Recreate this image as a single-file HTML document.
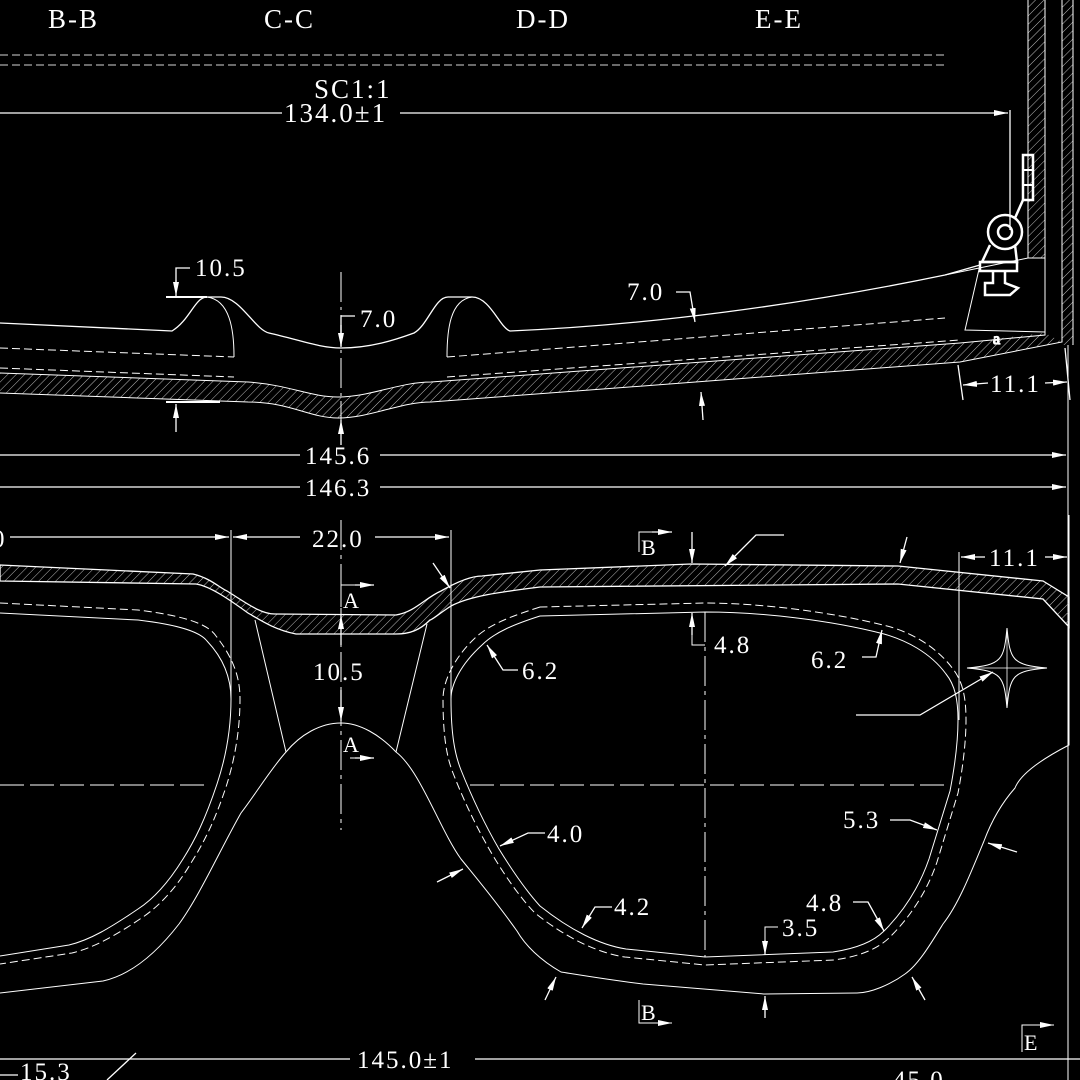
<!DOCTYPE html>
<html><head><meta charset="utf-8"><style>
html,body{margin:0;padding:0;background:#000;}
svg{display:block;}
text{font-family:"Liberation Serif","Noto Serif CJK SC",serif;fill:#fff;font-size:27px;letter-spacing:2px;}
</style></head><body>
<svg width="1080" height="1080" viewBox="0 0 1080 1080" xmlns="http://www.w3.org/2000/svg">
<defs>
<pattern id="h" width="6" height="6" patternUnits="userSpaceOnUse" patternTransform="rotate(45)">
<line x1="0" y1="0" x2="0" y2="6" stroke="#bbb" stroke-width="1"/>
</pattern>
<marker id="a" markerWidth="14" markerHeight="6" refX="14" refY="3" orient="auto" markerUnits="userSpaceOnUse">
<path d="M0,0 L14,3 L0,6 Z" fill="#fff"/>
</marker>
</defs>
<g fill="none" stroke="#fff" stroke-width="1.3">
<line x1="0" y1="55" x2="945" y2="55" stroke="#aaa" stroke-dasharray="8 4"/>
<line x1="0" y1="65" x2="945" y2="65" stroke="#aaa" stroke-dasharray="8 4"/>
<line x1="0" y1="113" x2="282" y2="113"/>
<line x1="400" y1="113" x2="1008" y2="113" marker-end="url(#a)"/>
<line x1="1010" y1="110" x2="1010" y2="230"/>

<!-- side view -->
<path d="M0,323 L172,331 C190,320 195,297 207,297 L221,297 C240,297 255,330 269,333 C300,340 320,348 341,348 C370,348 395,340 414,333 C428,325 435,297 448,297 L472,297 C490,297 500,328 510,331 C650,325 800,305 945,275 L980,265"/>
<path d="M207,297 C230,300 234,330 234,357" stroke-width="1"/>
<path d="M472,297 C450,300 447,330 447,357" stroke-width="1"/>
<path d="M0,348 L234,357 M0,368 L234,377 M447,357 L945,318 M447,377 L960,340" stroke-dasharray="8 4" stroke-width="1"/>
<path d="M0,373 L248,382 C290,385 310,397 338,397 C370,397 400,382 431,382 L960,343 L960,362 L431,402 C400,402 370,418 338,418 C310,418 290,402 248,402 L0,393Z" fill="url(#h)" stroke="none"/>
<path d="M960,343 L1045,333 L1062,342 L960,362 Z" fill="url(#h)" stroke="none"/>
<rect x="1028" y="0" width="17" height="258" fill="url(#h)" stroke="none"/>
<rect x="1062" y="0" width="11" height="345" fill="url(#h)" stroke="none"/>
<path d="M0,373 L248,382 C290,385 310,397 338,397 C370,397 400,382 431,382 L960,343 L1045,335 L1045,0 M1028,0 L1028,258 M1062,0 L1062,342 L960,362 L431,402 C400,402 370,418 338,418 C310,418 290,402 248,402 L0,393 M1073,0 L1073,345" stroke-width="1"/>
<path d="M945,275 L1028,258 L1045,258 M980,265 L965,330 L1045,332" stroke-width="1"/>
<rect x="1023" y="155" width="10" height="45" stroke-width="2.5"/>
<line x1="1023" y1="170" x2="1033" y2="170" stroke-width="2"/><line x1="1023" y1="185" x2="1033" y2="185" stroke-width="2"/>
<circle cx="1005" cy="232" r="17" stroke-width="2.5"/><circle cx="1005" cy="232" r="7" stroke-width="2.5"/>
<path d="M1023,200 L1015,218 M990,245 L982,262 L1017,262 L1015,245" stroke-width="2.5"/>
<rect x="980" y="262" width="37" height="9" stroke-width="2.5"/>
<path d="M993,271 L993,283 L985,283 L985,295 L1010,295 L1018,288 L1005,283 L1005,271" stroke-width="2.5"/>
<text x="993" y="344" style="font-size:16px">a</text>
<path d="M176,289 L176,268 L190,268"/><line x1="176" y1="280" x2="176" y2="296" marker-end="url(#a)"/>
<line x1="166" y1="297" x2="207" y2="297" stroke-width="2"/>
<line x1="166" y1="402" x2="220" y2="402" stroke-width="2"/>
<line x1="176" y1="432" x2="176" y2="404" marker-end="url(#a)"/>
<line x1="341" y1="272" x2="341" y2="445" stroke-dasharray="30 5 3 5" stroke-width="1"/>
<path d="M341,346 L341,316 L355,316"/><line x1="341" y1="325" x2="341" y2="347" marker-end="url(#a)"/>
<line x1="341" y1="445" x2="341" y2="420" marker-end="url(#a)"/>
<path d="M676,292 L690,292 L695,322" marker-end="url(#a)"/>
<line x1="703" y1="420" x2="701" y2="392" marker-end="url(#a)"/>
<line x1="958" y1="365" x2="963" y2="400"/><line x1="1065" y1="348" x2="1070" y2="400"/>
<line x1="988" y1="383" x2="963" y2="385" marker-end="url(#a)"/>
<line x1="1045" y1="383" x2="1067" y2="382" marker-end="url(#a)"/>
<line x1="1068" y1="345" x2="1068" y2="1080" stroke-width="1"/>
<line x1="0" y1="455" x2="300" y2="455"/><line x1="380" y1="455" x2="1066" y2="455" marker-end="url(#a)"/>
<line x1="0" y1="487" x2="300" y2="487"/><line x1="380" y1="487" x2="1066" y2="487" marker-end="url(#a)"/>

<!-- front view band -->
<path d="M0,565 L193,574 C210,578 220,588 227,591 C245,602 260,614 275,614 L396,615 C415,612 425,598 441,591 C455,583 470,576 482,576 L540,570 L691,564 L898,566 L1043,581 L1069,597 L1069,627 L1043,599 L898,584 L540,587 C500,592 470,596 451,606 C440,613 432,620 430,620 C420,630 410,634 396,634 L296,634 C275,630 260,620 248,613 C230,600 210,586 196,584 L0,581 Z" fill="url(#h)"/>
<path d="M1069,597 L1069,745 C1040,760 1020,775 1015,788 C1000,805 990,825 984,841 C970,875 958,905 943,924 C930,945 918,965 905,974 C890,985 870,993 857,993 L764,994 L643,984 C610,980 580,975 561,972 C540,960 525,945 517,931 C495,900 478,880 461,859 C440,830 420,770 396,752 C380,735 360,723 341,723 C320,723 300,735 286,752 C270,770 255,795 241,813 C220,850 200,895 179,924 C155,955 130,975 103,981 L0,993" stroke-width="1"/>
<path d="M0,613 L138,620 C180,625 200,632 207,641 C225,660 231,680 231,699 C231,730 225,760 217,784 C205,820 195,840 183,859 C170,880 155,898 138,909 C110,928 90,940 69,945 L0,956" stroke-width="1"/>
<path d="M0,603 L138,610 C185,616 208,624 216,636 C235,660 240,680 240,699 C240,732 234,762 226,787 C214,823 203,844 191,863 C178,885 162,904 143,917 C115,936 93,948 72,953 L0,964" stroke-width="1" stroke-dasharray="8 4"/>
<path d="M540,616 C515,624 495,632 482,645 C460,665 451,685 451,699 C451,735 455,755 461,770 C475,805 488,830 499,849 C515,875 530,895 540,906 C570,930 600,945 626,949 L705,957 L833,952 C860,948 875,940 884,931 C905,910 920,885 929,859 L950,791 C955,765 958,740 958,720 C958,700 955,685 946,674 C930,652 905,640 884,634 C830,620 760,612 705,612 Z" stroke-width="1"/>
<path d="M540,607 C512,616 490,624 475,638 C452,660 443,683 443,699 C443,737 447,758 453,773 C467,809 481,835 492,854 C508,881 524,902 535,913 C566,938 598,953 625,957 L705,965 L834,960 C863,956 880,947 890,937 C912,915 928,889 937,862 L958,793 C963,767 966,741 966,720 C966,698 963,682 953,669 C936,646 910,632 887,626 C832,612 760,603 705,603 Z" stroke-width="1" stroke-dasharray="8 4"/>
<path d="M255,620 L286,752 M427,624 L396,752" stroke-width="1"/>
<path d="M1007,628 C1010,660 1012,665 1047,668 C1012,671 1010,676 1007,708 C1004,676 1002,671 967,668 C1002,665 1004,660 1007,628 Z" stroke-width="1"/>
<path d="M1007,628 V708 M967,668 H1047" stroke-width="0.8"/>
<path d="M856,715 L920,715 L993,672" marker-end="url(#a)"/>
<line x1="0" y1="785" x2="210" y2="785" stroke-dasharray="24 6" stroke-width="1"/>
<line x1="470" y1="785" x2="948" y2="785" stroke-dasharray="24 6" stroke-width="1"/>
<line x1="705" y1="612" x2="705" y2="957" stroke-dasharray="30 5 4 5" stroke-width="1"/>
<line x1="341" y1="520" x2="341" y2="830" stroke-dasharray="30 5 4 5" stroke-width="1"/>
<line x1="231" y1="530" x2="231" y2="700" stroke-width="1"/><line x1="451" y1="530" x2="451" y2="700" stroke-width="1"/>
<line x1="10" y1="537" x2="229" y2="537" marker-end="url(#a)"/>
<line x1="300" y1="537" x2="233" y2="537" marker-end="url(#a)"/>
<line x1="375" y1="537" x2="449" y2="537" marker-end="url(#a)"/>
<line x1="341" y1="645" x2="341" y2="615" marker-end="url(#a)"/>
<line x1="341" y1="690" x2="341" y2="721" marker-end="url(#a)"/>
<line x1="433" y1="563" x2="450" y2="588" marker-end="url(#a)"/>
<path d="M341,607 L341,585 L372,585" stroke-width="1"/><line x1="355" y1="585" x2="374" y2="585" marker-end="url(#a)"/>
<path d="M350,758 L372,758" stroke-width="1"/><line x1="355" y1="758" x2="374" y2="758" marker-end="url(#a)"/>
<path d="M518,670 L503,670 L487,645" marker-end="url(#a)"/>
<path d="M545,833 L528,833 L500,846" marker-end="url(#a)"/>
<line x1="437" y1="882" x2="463" y2="869" marker-end="url(#a)"/>
<path d="M612,907 L595,907 L582,928" marker-end="url(#a)"/>
<line x1="545" y1="1000" x2="556" y2="977" marker-end="url(#a)"/>
<line x1="765" y1="1018" x2="765" y2="996" marker-end="url(#a)"/>
<line x1="925" y1="1000" x2="912" y2="977" marker-end="url(#a)"/>
<path d="M765,952 L765,927 L778,927" stroke-width="1"/><line x1="765" y1="940" x2="765" y2="955" marker-end="url(#a)"/>
<path d="M853,902 L868,902 L884,931" marker-end="url(#a)"/>
<path d="M890,820 L910,820 L937,830" marker-end="url(#a)"/>
<line x1="1017" y1="852" x2="988" y2="843" marker-end="url(#a)"/>
<path d="M862,657 L876,657 L882,630" marker-end="url(#a)"/>
<path d="M705,645 L692,645 L692,630" stroke-width="1"/><line x1="692" y1="635" x2="692" y2="613" marker-end="url(#a)"/>
<line x1="692" y1="532" x2="692" y2="563" marker-end="url(#a)"/>
<path d="M784,535 L756,535 L725,566" marker-end="url(#a)"/>
<line x1="907" y1="537" x2="900" y2="563" marker-end="url(#a)"/>
<line x1="959" y1="552" x2="959" y2="720" stroke-width="1"/>
<line x1="1069" y1="515" x2="1069" y2="597" stroke-width="1"/>
<line x1="985" y1="557" x2="961" y2="557" marker-end="url(#a)"/>
<line x1="1045" y1="557" x2="1067" y2="557" marker-end="url(#a)"/>
<path d="M639,552 L639,532 L652,532" stroke-width="1"/><line x1="652" y1="532" x2="672" y2="532" marker-end="url(#a)"/>
<path d="M639,1000 L639,1023 L672,1023" stroke-width="1" marker-end="url(#a)"/>
<path d="M1022,1052 L1022,1025 L1054,1025" stroke-width="1" marker-end="url(#a)"/>
<line x1="0" y1="1059" x2="350" y2="1059"/><line x1="475" y1="1059" x2="1080" y2="1059"/>
<line x1="136" y1="1053" x2="107" y2="1080"/>
<path d="M0,1075 L18,1075"/>
</g>
<text x="48" y="28">B-B</text>
<text x="264" y="28">C-C</text>
<text x="516" y="28">D-D</text>
<text x="755" y="28">E-E</text>
<text x="314" y="98">SC1:1</text>
<text x="284" y="122">134.0±1</text>
<text x="195" y="276" style="font-size:25px">10.5</text>
<text x="360" y="327" style="font-size:25px">7.0</text>
<text x="627" y="300" style="font-size:25px">7.0</text>
<text x="990" y="392" style="font-size:25px">11.1</text>
<text x="305" y="464" style="font-size:25px">145.6</text>
<text x="305" y="496" style="font-size:25px">146.3</text>
<text x="-8" y="547" style="font-size:25px">0</text>
<text x="312" y="547" style="font-size:25px">22.0</text>
<text x="343" y="608" style="font-size:22px">A</text>
<text x="343" y="752" style="font-size:22px">A</text>
<text x="313" y="680" style="font-size:25px">10.5</text>
<text x="522" y="679" style="font-size:25px">6.2</text>
<text x="547" y="842" style="font-size:25px">4.0</text>
<text x="614" y="915" style="font-size:25px">4.2</text>
<text x="782" y="936" style="font-size:25px">3.5</text>
<text x="806" y="911" style="font-size:25px">4.8</text>
<text x="843" y="828" style="font-size:25px">5.3</text>
<text x="811" y="668" style="font-size:25px">6.2</text>
<text x="714" y="653" style="font-size:25px">4.8</text>
<text x="989" y="566" style="font-size:25px">11.1</text>
<text x="641" y="555" style="font-size:22px">B</text>
<text x="641" y="1020" style="font-size:22px">B</text>
<text x="1024" y="1050" style="font-size:22px">E</text>
<text x="357" y="1068" style="font-size:25px">145.0±1</text>
<text x="20" y="1080" style="font-size:25px">15.3</text>
<text x="893" y="1088" style="font-size:25px">45.0</text>
</svg>
</body></html>
